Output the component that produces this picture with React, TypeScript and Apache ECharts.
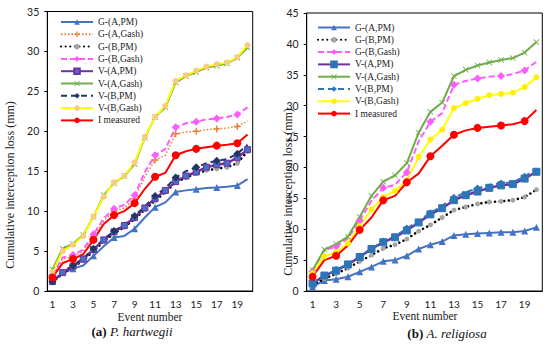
import React, { useEffect, useRef } from "react";
import * as echarts from "echarts";

const events = ["1","2","3","4","5","6","7","8","9","10","11","12","13","14","15","16","17","18","19","20"];

// (a) P. hartwegii
const L_G_A_PM = [1.2,2.2,2.8,3.2,4.4,5.6,6.7,6.9,7.8,9.2,10.5,11.1,12.4,12.6,12.75,12.9,12.95,13.05,13.2,14.0];
const L_G_A_Gash = [1.9,4.0,4.3,5.0,6.8,8.8,10.0,10.4,11.6,14.3,16.4,17.0,19.7,19.9,20.0,20.2,20.3,20.4,20.6,21.3];
const L_G_B_PM = [1.1,2.2,3.0,3.8,5.0,6.2,7.2,8.0,9.0,10.2,11.3,12.4,13.6,14.2,14.7,15.1,15.3,15.5,16.0,17.5];
const L_G_B_Gash = [2.0,4.2,4.5,5.2,7.1,9.1,10.3,10.8,12.0,14.9,17.0,17.8,20.5,21.0,21.2,21.5,21.6,21.8,22.1,23.0];
const L_V_A_PM = [1.2,2.3,3.1,4.0,5.2,6.4,7.4,8.2,9.2,10.4,11.6,12.6,13.7,14.4,14.9,15.5,15.8,16.0,16.7,17.7];
const L_V_A_Gash = [2.7,5.3,5.9,7.0,9.3,12.0,13.5,14.4,15.9,19.2,21.8,23.0,26.1,26.9,27.4,28.0,28.2,28.5,29.2,30.5];
const L_V_B_PM = [1.2,2.4,3.2,4.1,5.3,6.5,7.5,8.3,9.4,10.6,11.9,12.9,14.2,15.0,15.5,16.0,16.3,16.5,17.2,18.3];
const L_V_B_Gash = [2.4,5.0,5.8,6.9,9.3,11.8,13.6,14.4,16.1,19.3,21.8,23.2,26.3,27.0,27.6,28.1,28.4,28.6,29.3,30.8];
const L_I = [1.7,3.5,4.0,4.6,6.4,8.4,9.5,10.0,11.0,12.8,14.3,14.8,17.0,17.5,17.8,18.0,18.2,18.3,18.5,19.6];

// (b) A. religiosa
const R_G_A_PM = [0.7,1.7,1.9,2.3,3.1,3.9,4.8,5.0,5.7,6.8,7.5,8.0,9.0,9.2,9.3,9.4,9.5,9.5,9.7,10.3];
const R_G_B_PM = [1.0,2.0,2.8,3.7,4.8,5.8,6.9,7.5,8.4,9.7,10.7,11.9,13.1,13.6,14.1,14.4,14.5,14.7,15.2,16.4];
const R_G_B_Gash = [3.2,6.6,7.2,8.5,11.4,14.6,16.7,17.2,19.2,24.2,27.4,28.8,33.4,34.0,34.4,34.7,34.8,35.1,35.7,37.1];
const R_V_A_PM = [1.2,2.5,3.3,4.3,5.5,6.8,7.9,8.7,9.8,11.1,12.4,13.4,14.7,15.5,16.1,16.7,17.1,17.3,18.2,19.3];
const R_V_A_Gash = [3.4,6.7,7.6,8.8,12.0,15.4,17.7,18.7,20.7,25.6,29.0,30.5,34.8,35.8,36.5,37.0,37.4,37.7,38.6,40.3];
const R_V_B_PM = [1.2,2.5,3.4,4.4,5.6,6.9,8.0,8.9,10.1,11.4,12.6,13.8,15.1,16.0,16.6,17.2,17.4,17.6,18.5,19.8];
const R_V_B_Gash = [2.9,5.6,6.3,7.7,10.5,13.2,15.2,16.2,17.9,21.7,24.5,26.1,29.6,30.4,31.1,31.7,31.9,32.1,33.0,34.6];
const R_I = [2.3,5.0,5.7,7.35,9.9,11.9,14.7,15.4,17.6,19.0,21.8,23.5,25.3,26.0,26.4,26.6,26.8,27.0,27.5,29.3];

const PLUS = "path://M4,0H6V4H10V6H6V10H4V6H0V4H4Z";
const CROSS = "path://M0,1L1,0L5,4L9,0L10,1L6,5L10,9L9,10L5,6L1,10L0,9L4,5Z";
const SERIF = '"Liberation Serif", "Times New Roman", serif';
const SANS = 'Lato, "Liberation Sans", sans-serif';

type Spec = {
  name: string; data: number[]; color: string; width: number; type: any; cap?: string;
  symbol: string; size: number; mfill: string; mborder?: string;
};

function mk(s: Spec) {
  return {
    type: "line",
    name: s.name,
    data: s.data,
    symbol: s.symbol,
    symbolSize: s.size,
    lineStyle: { color: s.color, width: s.width, type: s.type, cap: s.cap || "butt" },
    itemStyle: { color: s.mfill, borderColor: s.mborder || s.mfill, borderWidth: s.mborder ? 1 : 0 },
    color: s.mfill,
    emphasis: { disabled: true },
  };
}

function buildOption(specs: Spec[], grid: any, yMax: number, legendPos: any, caption: any, yTitle: any, xTitle: any) {
  return {
    animation: false,
    grid: { ...grid, show: true, borderColor: "#000", borderWidth: 1, backgroundColor: "transparent" },
    legend: {
      orient: "vertical",
      left: legendPos.left,
      top: legendPos.top,
      itemWidth: 32,
      itemHeight: 7,
      itemGap: 0.3,
      padding: 0,
      textStyle: { fontFamily: SERIF, fontSize: 9.5, color: "#222", lineHeight: 12 },
      data: specs.map((s) => s.name),
    },
    xAxis: {
      type: "category",
      data: events,
      boundaryGap: true,
      axisLine: { lineStyle: { color: "#000", width: 1 } },
      axisTick: { inside: true, length: 3, interval: 0, lineStyle: { color: "#000" } },
      axisLabel: { interval: 1, margin: 8, fontFamily: SANS, fontSize: 10, color: "#222" },
      splitLine: { show: false },
    },
    yAxis: {
      type: "value",
      min: 0,
      max: yMax,
      interval: 5,
      axisLine: { show: true, lineStyle: { color: "#000", width: 1 } },
      axisTick: { show: true, inside: false, length: 3, lineStyle: { color: "#000" } },
      axisLabel: { margin: 8, fontFamily: SANS, fontSize: 10.5, color: "#222" },
      splitLine: { show: false },
    },
    graphic: [
      {
        type: "text", x: yTitle.x, y: yTitle.y, rotation: Math.PI / 2,
        style: { text: "Cumulative interception loss (mm)", fontFamily: SERIF, fontSize: 12, fill: "#222", align: "center", verticalAlign: "middle" },
      },
      {
        type: "text", x: xTitle.x, y: xTitle.y,
        style: { text: "Event number", fontFamily: SERIF, fontSize: 11.5, fill: "#222", align: "center", verticalAlign: "middle" },
      },
      {
        type: "text", x: caption.x, y: caption.y,
        style: {
          text: caption.text,
          align: "center", verticalAlign: "middle",
          fontFamily: SERIF, fontSize: 13, fill: "#111",
          rich: {
            b: { fontFamily: SERIF, fontSize: 13, fontWeight: "bold", fill: "#111" },
            i: { fontFamily: SERIF, fontSize: 13, fontStyle: "italic", fill: "#111" },
          },
        },
      },
    ],
    series: specs.map(mk),
  };
}

const leftSpecs: Spec[] = [
  { name: "G-(A,PM)", data: L_G_A_PM, color: "#4472C4", width: 2, type: "solid", symbol: "triangle", size: 7, mfill: "#4472C4" },
  { name: "G-(A,Gash)", data: L_G_A_Gash, color: "#ED7D31", width: 1.5, type: [1.5, 2], symbol: PLUS, size: 7, mfill: "#ED7D31" },
  { name: "G-(B,PM)", data: L_G_B_PM, color: "#000", width: 2.5, type: [0.1, 4.5], cap: "round", symbol: "circle", size: 5, mfill: "#A5A5A5" },
  { name: "G-(B,Gash)", data: L_G_B_Gash, color: "#FF5CFF", width: 2, type: [6, 3], symbol: "diamond", size: 8, mfill: "#FF5CFF" },
  { name: "V-(A,PM)", data: L_V_A_PM, color: "#7030A0", width: 2.5, type: "solid", symbol: "rect", size: 6, mfill: "#4472C4", mborder: "#7030A0" },
  { name: "V-(A,Gash)", data: L_V_A_Gash, color: "#70AD47", width: 2, type: "solid", symbol: CROSS, size: 6, mfill: "#70AD47" },
  { name: "V-(B,PM)", data: L_V_B_PM, color: "#203864", width: 2, type: [6, 4], symbol: "diamond", size: 8, mfill: "#203864" },
  { name: "V-(B,Gash)", data: L_V_B_Gash, color: "#FFFF00", width: 2, type: "solid", symbol: "circle", size: 6, mfill: "#F8CB7F" },
  { name: "I measured", data: L_I, color: "#FF0000", width: 2, type: "solid", symbol: "circle", size: 8, mfill: "#FF0000" },
];

const rightSpecs: Spec[] = [
  { name: "G-(A,PM)", data: R_G_A_PM, color: "#4472C4", width: 2, type: "solid", symbol: "triangle", size: 7, mfill: "#4472C4" },
  { name: "G-(B,PM)", data: R_G_B_PM, color: "#000", width: 2.5, type: [0.1, 4.5], cap: "round", symbol: "circle", size: 5, mfill: "#A5A5A5" },
  { name: "G-(B,Gash)", data: R_G_B_Gash, color: "#FF5CFF", width: 2, type: [6, 3], symbol: "diamond", size: 8, mfill: "#FF5CFF" },
  { name: "V-(A,PM)", data: R_V_A_PM, color: "#7030A0", width: 2.5, type: "solid", symbol: "rect", size: 7, mfill: "#2E75B6", mborder: "#2E75B6" },
  { name: "V-(A,Gash)", data: R_V_A_Gash, color: "#70AD47", width: 2, type: "solid", symbol: CROSS, size: 6, mfill: "#70AD47" },
  { name: "V-(B,PM)", data: R_V_B_PM, color: "#2E75B6", width: 2, type: [6, 4], symbol: "diamond", size: 8, mfill: "#2E75B6" },
  { name: "V-(B,Gash)", data: R_V_B_Gash, color: "#FFFF00", width: 2, type: "solid", symbol: "circle", size: 6, mfill: "#FFF000" },
  { name: "I measured", data: R_I, color: "#FF0000", width: 2, type: "solid", symbol: "circle", size: 8, mfill: "#FF0000" },
];

function Chart({ option, left }: { option: any; left: number }) {
  const ref = useRef<HTMLDivElement>(null);
  useEffect(() => {
    if (!ref.current) return;
    const chart = echarts.init(ref.current, null, { renderer: "svg" });
    chart.setOption(option);
    return () => chart.dispose();
  }, [option]);
  return <div ref={ref} style={{ position: "absolute", left, top: 0, width: 275, height: 345 }} />;
}

const leftOption = buildOption(
  leftSpecs,
  { left: 47.3, top: 11.5, width: 205.4, height: 279.5 },
  35,
  { left: 60, top: 16 },
  { x: 132, y: 331, text: "{b|(a)} {i|P. hartwegii}" },
  { x: 10, y: 185 },
  { x: 150, y: 316.5 }
);

const rightOption = buildOption(
  rightSpecs,
  { left: 31.7, top: 13, width: 235.6, height: 278 },
  45,
  { left: 42, top: 21.5 },
  { x: 172, y: 333, text: "{b|(b)} {i|A. religiosa}" },
  { x: 12.7, y: 192 },
  { x: 150, y: 316 }
);

export default function App() {
  return (
    <div style={{ position: "absolute", left: 0, top: 0, width: 550, height: 345, background: "#fff" }}>
      <Chart option={leftOption} left={0} />
      <Chart option={rightOption} left={275} />
    </div>
  );
}
